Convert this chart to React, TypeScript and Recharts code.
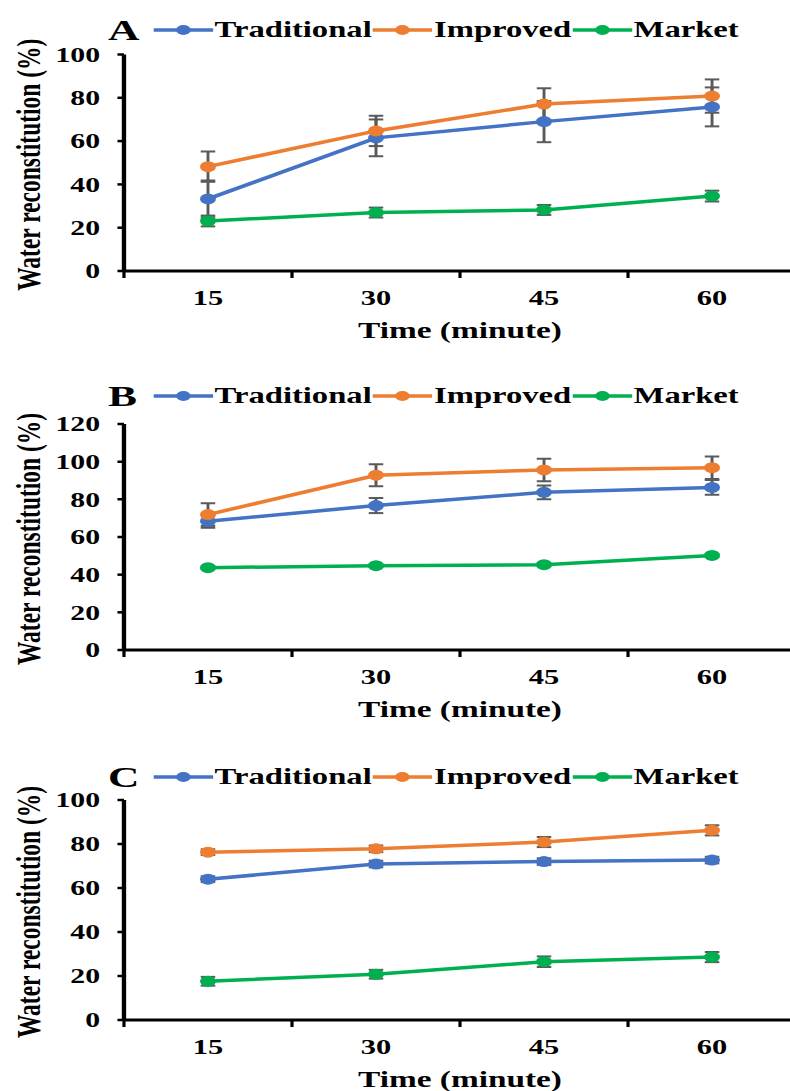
import React from 'react';
import { LineChart, Line, XAxis, YAxis, ErrorBar, Label } from 'recharts';

// horizontal stretch of the original figure
const STRETCH = 1.45;
const FONT = '"Liberation Serif", "Times New Roman", serif';

const BLUE = '#4472C4';
const ORANGE = '#ED7D31';
const GREEN = '#00B050';
const ERR = '#5A5A5A';

const times = [15, 30, 45, 60];
const bandEdges = [7.5, 22.5, 37.5, 52.5, 67.5];
const seriesNames = ['Traditional', 'Improved', 'Market'];

// Panel A
const aTraditional = [33.3, 61.5, 69, 75.8];
const aTraditionalErr = [8.5, 8.5, 9.5, 9];
const aImproved = [48.2, 64.7, 77.1, 80.8];
const aImprovedErr = [7, 7, 7.3, 7.7];
const aMarket = [23.1, 27, 28.2, 34.6];
const aMarketErr = [2.5, 2.3, 2.3, 2.5];
const aTicks = [0, 20, 40, 60, 80, 100];

// Panel B
const bTraditional = [68.4, 76.7, 83.7, 86.3];
const bTraditionalErr = [3.5, 4, 3.7, 3.9];
const bImproved = [71.9, 92.8, 95.6, 96.8];
const bImprovedErr = [6, 5.8, 6, 6];
const bMarket = [43.7, 44.8, 45.3, 50.2];
const bMarketErr = [0.8, 0.8, 0.8, 0.8];
const bTicks = [0, 20, 40, 60, 80, 100, 120];

// Panel C
const cTraditional = [64, 70.9, 72, 72.7];
const cTraditionalErr = [1.3, 1.5, 1.5, 1.5];
const cImproved = [76.3, 77.8, 80.9, 86.2];
const cImprovedErr = [1.3, 1.5, 2.3, 2.3];
const cMarket = [17.6, 20.8, 26.5, 28.6];
const cMarketErr = [2, 2, 2.4, 2.3];
const cTicks = [0, 20, 40, 60, 80, 100];

const build = (tr: number[], trE: number[], im: number[], imE: number[], mk: number[], mkE: number[]) =>
  times.map((t, i) => ({
    time: t,
    traditional: tr[i],
    traditionalErr: trE[i],
    improved: im[i],
    improvedErr: imE[i],
    market: mk[i],
    marketErr: mkE[i],
  }));

const panels = [
  { letter: 'A', top: 0, height: 370, marginTop: 54.5, xHeight: 99, legendY: 30, ticks: aTicks,
    data: build(aTraditional, aTraditionalErr, aImproved, aImprovedErr, aMarket, aMarketErr) },
  { letter: 'B', top: 370, height: 370, marginTop: 54, xHeight: 90, legendY: 396, ticks: bTicks,
    data: build(bTraditional, bTraditionalErr, bImproved, bImprovedErr, bMarket, bMarketErr) },
  { letter: 'C', top: 740, height: 351, marginTop: 60, xHeight: 71, legendY: 777, ticks: cTicks,
    data: build(cTraditional, cTraditionalErr, cImproved, cImprovedErr, cMarket, cMarketErr) },
];

const XTick = (props: any) => {
  const { x, y, payload } = props;
  if (bandEdges.includes(payload.value)) {
    return <line x1={x} x2={x} y1={y} y2={y + 7} stroke="#000" strokeWidth={2.2} />;
  }
  return (
    <text x={x} y={y + 34} textAnchor="middle" fontFamily={FONT} fontWeight="bold" fontSize={21} fill="#000">
      {payload.value}
    </text>
  );
};

const XTitle = (props: any) => {
  const vb = props.viewBox;
  return (
    <text x={vb.x + vb.width / 2} y={vb.y + 67} textAnchor="middle" fontFamily={FONT} fontWeight="bold" fontSize={23} fill="#000">
      Time (minute)
    </text>
  );
};

const YTitle = (props: any) => {
  const vb = props.viewBox;
  const cx = 19.3;
  const cy = vb.y + vb.height / 2 + 2;
  return (
    <text x={cx} y={cy} transform={`rotate(-90 ${cx} ${cy})`} textAnchor="middle" dominantBaseline="central"
      fontFamily={FONT} fontWeight="bold" fontSize={23.5} fill="#000">
      Water reconstitution (%)
    </text>
  );
};

const colors = [BLUE, ORANGE, GREEN];

const PanelLegend = ({ letter, y }: { letter: string; y: number }) => (
  <div style={{ position: 'absolute', top: y - 16, left: 0, height: 32, width: 552, fontFamily: FONT, fontWeight: 'bold', color: '#000' }}>
    <div style={{ position: 'absolute', left: 74.5, top: 0, height: 32, lineHeight: '32px', fontSize: 30 }}>{letter}</div>
    <div style={{ position: 'absolute', left: 105, top: 0, height: 32, display: 'flex', alignItems: 'center', fontSize: 22.5 }}>
      {seriesNames.map((n, i) => (
        <React.Fragment key={n}>
          <svg width={43} height={14} style={{ display: 'block' }}>
            <line x1={1} x2={42} y1={7} y2={7} stroke={colors[i]} strokeWidth={3.5} />
            <circle cx={21.5} cy={7} r={5} fill={colors[i]} />
          </svg>
          <span style={{ lineHeight: '32px' }}>{n}</span>
        </React.Fragment>
      ))}
    </div>
  </div>
);

const Panel = ({ p }: { p: typeof panels[number] }) => (
  <div style={{ position: 'absolute', top: p.top, left: 0, width: 552, height: p.height }}>
    <LineChart width={552} height={p.height} data={p.data} margin={{ top: p.marginTop, right: 3, left: 0, bottom: 0 }}>
      <XAxis
        dataKey="time"
        type="number"
        domain={[bandEdges[0], bandEdges[bandEdges.length - 1]]}
        ticks={[...bandEdges, ...times].sort((a, b) => a - b)}
        interval={0}
        height={p.xHeight}
        tickSize={0}
        tickMargin={0}
        tickLine={false}
        tick={<XTick />}
        axisLine={{ stroke: '#000', strokeWidth: 3 }}
      >
        <Label content={<XTitle />} />
      </XAxis>
      <YAxis
        width={85.5}
        domain={[p.ticks[0], p.ticks[p.ticks.length - 1]]}
        ticks={p.ticks}
        interval={0}
        tickSize={4.5}
        tickMargin={12}
        tickLine={{ stroke: '#000', strokeWidth: 2.5 }}
        axisLine={{ stroke: '#000', strokeWidth: 3 }}
        tick={{ fill: '#000', fontSize: 20.5, fontWeight: 'bold', fontFamily: FONT }}
      >
        <Label content={<YTitle />} />
      </YAxis>
      <Line dataKey="traditional" stroke={BLUE} strokeWidth={3.5} dot={{ r: 5.5, fill: BLUE, stroke: BLUE, strokeWidth: 0 }} isAnimationActive={false}>
        <ErrorBar dataKey="traditionalErr" direction="y" width={5} stroke={ERR} strokeWidth={2} isAnimationActive={false} />
      </Line>
      <Line dataKey="improved" stroke={ORANGE} strokeWidth={3.5} dot={{ r: 5.5, fill: ORANGE, stroke: ORANGE, strokeWidth: 0 }} isAnimationActive={false}>
        <ErrorBar dataKey="improvedErr" direction="y" width={5} stroke={ERR} strokeWidth={2} isAnimationActive={false} />
      </Line>
      <Line dataKey="market" stroke={GREEN} strokeWidth={3.5} dot={{ r: 5.5, fill: GREEN, stroke: GREEN, strokeWidth: 0 }} isAnimationActive={false}>
        <ErrorBar dataKey="marketErr" direction="y" width={5} stroke={ERR} strokeWidth={2} isAnimationActive={false} />
      </Line>
    </LineChart>
    <PanelLegend letter={p.letter} y={p.legendY - p.top} />
  </div>
);

export default function App() {
  return (
    <div style={{ position: 'absolute', left: 0, top: 0, width: 790, height: 1091, overflow: 'hidden', background: '#fff' }}>
      <div style={{ position: 'relative', width: 552, height: 1091, transform: `scaleX(${STRETCH})`, transformOrigin: '0 0' }}>
        {panels.map((p) => (
          <Panel key={p.letter} p={p} />
        ))}
      </div>
    </div>
  );
}
